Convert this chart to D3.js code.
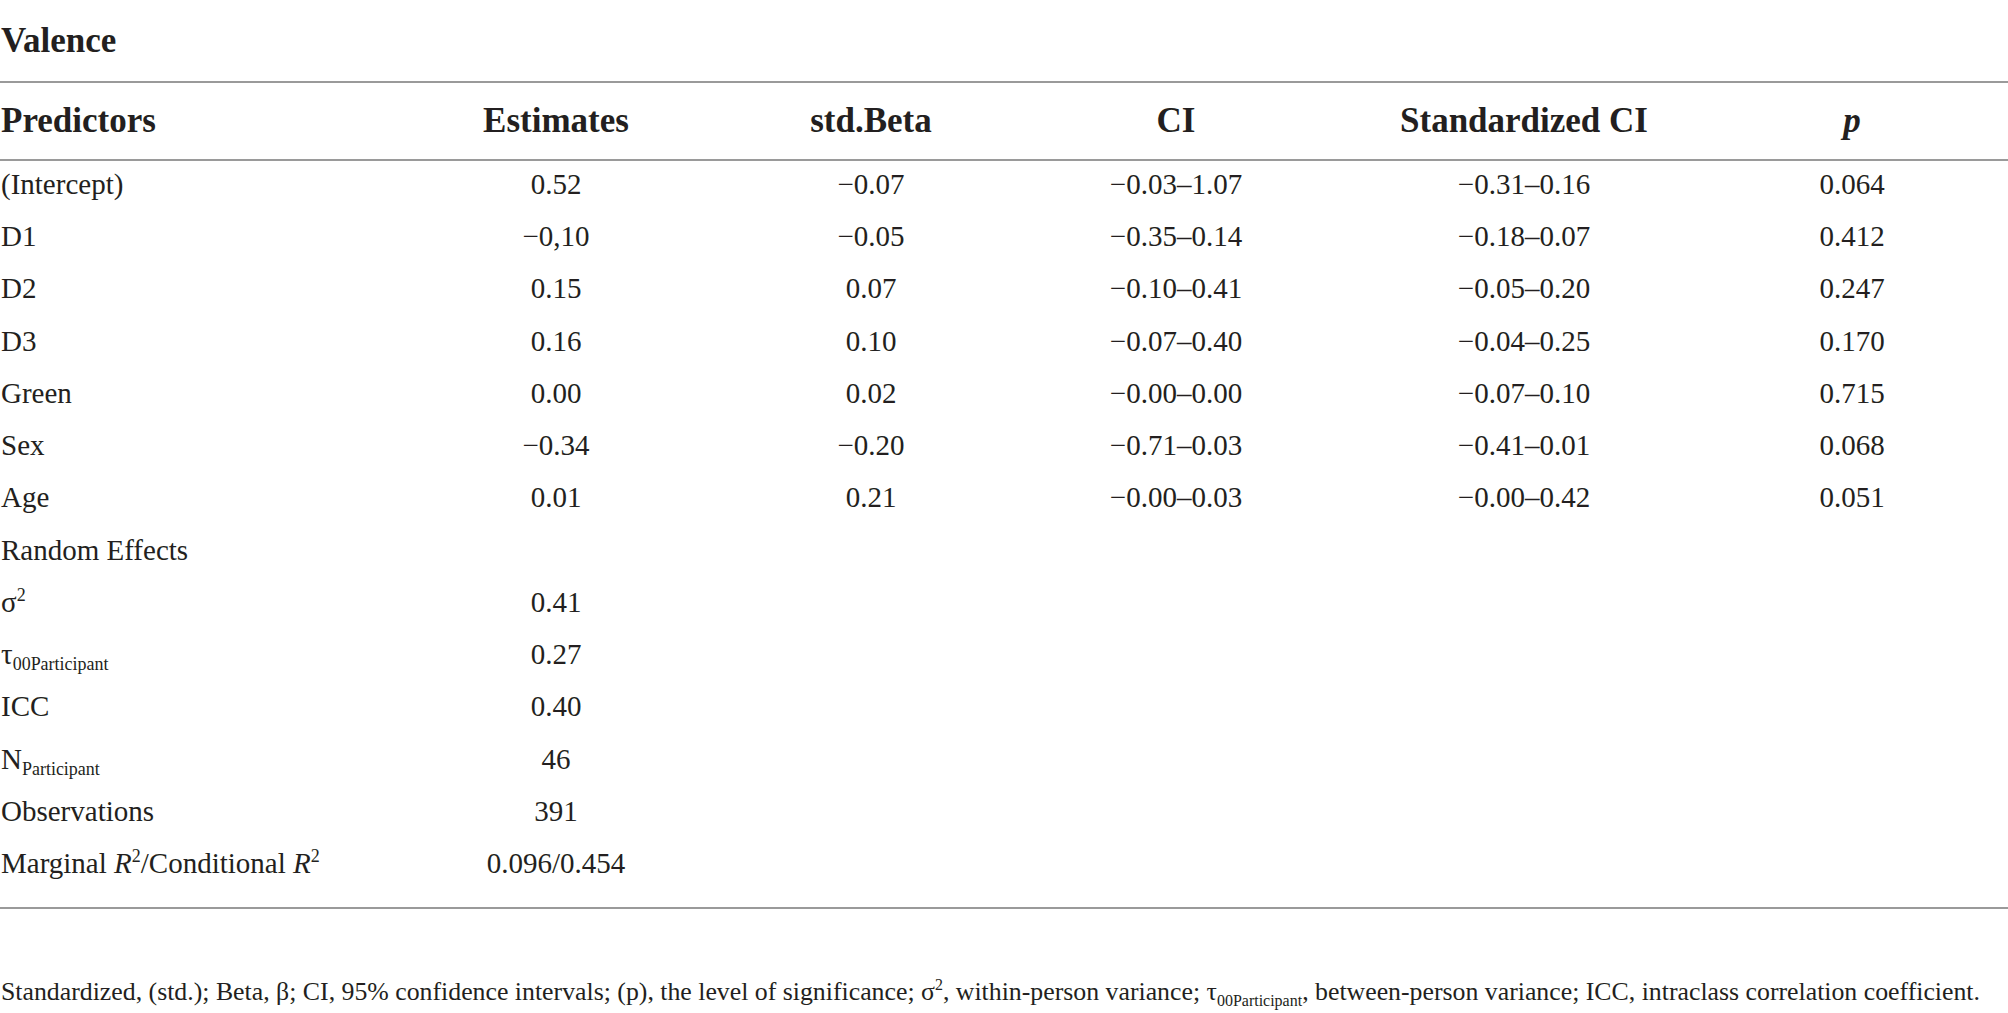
<!DOCTYPE html>
<html>
<head>
<meta charset="utf-8">
<title>Valence</title>
<script src="https://d3js.org/d3.v7.min.js"></script>
<style>
  body { margin: 0; background: #fff; }
  svg { display: block; }
  text { font-family: "Liberation Serif", "DejaVu Serif", serif; fill: #231f20; }
</style>
</head>
<body>
<div id="chart"></div>
<script>
// table contents
var title = "Valence";
var headers = ["Predictors", "Estimates", "std.Beta", "CI", "Standardized CI", "*p*"];

var predictors = ["(Intercept)", "D1", "D2", "D3", "Green", "Sex", "Age"];
var estimates  = ["0.52", "\u22120,10", "0.15", "0.16", "0.00", "\u22120.34", "0.01"];
var stdBeta    = ["\u22120.07", "\u22120.05", "0.07", "0.10", "0.02", "\u22120.20", "0.21"];
var ci         = ["\u22120.03\u20131.07", "\u22120.35\u20130.14", "\u22120.10\u20130.41", "\u22120.07\u20130.40",
                  "\u22120.00\u20130.00", "\u22120.71\u20130.03", "\u22120.00\u20130.03"];
var stdCi      = ["\u22120.31\u20130.16", "\u22120.18\u20130.07", "\u22120.05\u20130.20", "\u22120.04\u20130.25",
                  "\u22120.07\u20130.10", "\u22120.41\u20130.01", "\u22120.00\u20130.42"];
var pValues    = ["0.064", "0.412", "0.247", "0.170", "0.715", "0.068", "0.051"];

var randomLabels = ["Random Effects", "\u03c3^2", "\u03c4_00Participant", "ICC", "N_Participant",
                    "Observations", "Marginal *R*^2/Conditional *R*^2"];
var randomValues = ["", "0.41", "0.27", "0.40", "46", "391", "0.096/0.454"];

var footnote = "Standardized, (std.); Beta, \u03b2; CI, 95% confidence intervals; (p), the level of significance; " +
               "\u03c3^2, within-person variance; \u03c4_00Participant, between-person variance; ICC, intraclass correlation coefficient.";

var W = 2008, H = 1013;
var colCenters = [556, 871, 1176, 1524, 1852];

var svg = d3.select("#chart").append("svg")
  .attr("width", W).attr("height", H);

// rows
var rows = predictors.map(function (d, i) {
  return [d, estimates[i], stdBeta[i], ci[i], stdCi[i], pValues[i]];
}).concat(randomLabels.map(function (d, i) {
  return [d, randomValues[i], "", "", "", ""];
}));

var y = d3.scalePoint()
  .domain(d3.range(rows.length))
  .range([184, 863]);

var x = d3.scaleOrdinal()
  .domain(headers.slice(1))
  .range(colCenters);

// tiny markup: *italic*, ^sup, _sub (runs to end of word)
function rich(sel, str, size) {
  var re = /(\*[^*]+\*)|(\^[^\s\/,]+)|(_[^\s\/,]+)|([^*^_]+)/g, m, shift = 0;
  while ((m = re.exec(str)) !== null) {
    var t = sel.append("tspan");
    if (m[2] || m[3]) {
      var off = m[2] ? -size * 0.38 : size * 0.22;
      t.attr("dy", off - shift).style("font-size", (size * 0.62) + "px").text(m[0].slice(1));
      shift = off;
    } else {
      if (shift) t.attr("dy", -shift);
      shift = 0;
      if (m[1]) t.style("font-style", "italic").text(m[1].slice(1, -1));
      else t.text(m[4]);
    }
  }
}

// title
svg.append("text")
  .attr("x", 1).attr("y", 52)
  .style("font-size", "35px").style("font-weight", "bold")
  .text(title);

// rules
var rules = [82, 160, 908];
svg.selectAll("line.rule")
  .data(rules)
  .enter().append("line")
  .attr("class", "rule")
  .attr("x1", 0).attr("x2", W)
  .attr("y1", function (d) { return d; })
  .attr("y2", function (d) { return d; })
  .attr("stroke", "#9a9a9a")
  .attr("stroke-width", 2);

// header
svg.selectAll("text.head")
  .data(headers)
  .enter().append("text")
  .attr("class", "head")
  .attr("x", function (d, i) { return i === 0 ? 1 : x(d); })
  .attr("y", 132)
  .attr("text-anchor", function (d, i) { return i === 0 ? "start" : "middle"; })
  .style("font-size", "35px").style("font-weight", "bold")
  .each(function (d) { rich(d3.select(this), d, 35); });

// body
var bodySize = 29;
var rowG = svg.selectAll("g.row")
  .data(rows)
  .enter().append("g")
  .attr("class", "row")
  .attr("transform", function (d, i) { return "translate(0," + (y(i) + 10) + ")"; });

rowG.selectAll("text")
  .data(function (d) {
    return d.map(function (v, i) { return { v: v, i: i }; })
            .filter(function (c) { return c.v !== ""; });
  })
  .enter().append("text")
  .attr("x", function (c) { return c.i === 0 ? 1 : x(headers[c.i]); })
  .attr("text-anchor", function (c) { return c.i === 0 ? "start" : "middle"; })
  .style("font-size", bodySize + "px")
  .each(function (c) { rich(d3.select(this), c.v, bodySize); });

// footnote
svg.append("text")
  .attr("x", 1).attr("y", 1000)
  .style("font-size", "25.8px")
  .each(function () { rich(d3.select(this), footnote, 25.8); });
</script>
</body>
</html>
